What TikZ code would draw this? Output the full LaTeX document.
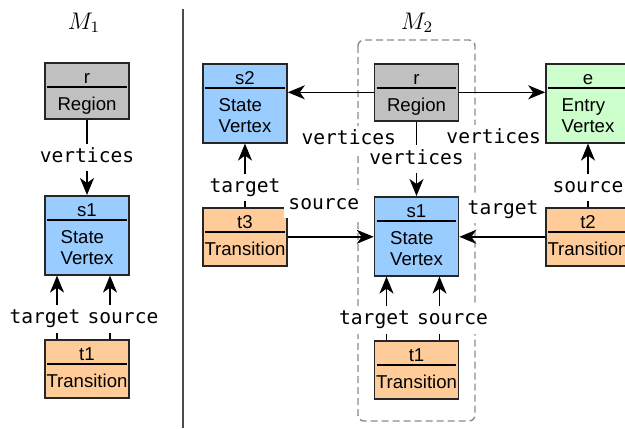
\documentclass[tikz,border=0pt]{standalone}
\usepackage{fontspec}
\setsansfont{Liberation Sans}
\setmonofont{DejaVu Sans Mono}
\usetikzlibrary{arrows.meta,calc}

\definecolor{regiongray}{HTML}{C0C0C0}
\definecolor{stateblue}{HTML}{99CCFF}
\definecolor{entrygreen}{HTML}{CCFFCC}
\definecolor{transorange}{HTML}{FFCC99}

\begin{document}
\begin{tikzpicture}[x=0.5pt,y=-0.5pt,
    obj/.style={draw=black!85, line width=0.8pt, minimum width=42pt, anchor=north, inner sep=0pt},
    objtitle/.style={font=\fontsize{9.3}{10.5}\selectfont\sffamily, anchor=base, inner sep=0pt},
    objbody/.style={font=\fontsize{9.3}{10.5}\selectfont\sffamily, align=left, anchor=north, inner sep=0pt},
    lbl/.style={font=\fontsize{9.8}{11}\selectfont\ttfamily, fill=white, inner sep=2pt, text height=7.5pt, text depth=2.3pt},
    conn/.style={line width=0.8pt, >={Stealth[length=8.5pt,width=7pt,inset=2.5pt]}}]
    \useasboundingbox (0,0) rectangle (625,428);

    % Разделитель и заголовки
    \draw[line width=0.65pt, black!70] (183,9) -- (183,428);
    \node[font=\large] (m1) at (84,23) {$M_1$};
    \node[font=\large] (m2) at (417,23) {$M_2$};
    \draw[black!45, line width=0.7pt, dash pattern=on 3.5pt off 2pt, rounded corners=3pt]
        (358,40) rectangle (475,421);

    % Объекты
    \foreach \n/\x/\y/\h/\c/\t/\b in {
        lr/87/62/28/regiongray/r/Region,
        ls1/87/195/39.5/stateblue/s1/{State\\Vertex},
        lt1/87/339/29/transorange/t1/Transition,
        rr/416.5/63/28.5/regiongray/r/Region,
        rs1/416.5/196/39.5/stateblue/s1/{State\\Vertex},
        rt1/416.5/340/29/transorange/t1/Transition,
        rs2/245/63/39.5/stateblue/s2/{State\\Vertex},
        rt3/245/207/29/transorange/t3/Transition,
        re/588/63/39.5/entrygreen/e/{Entry\\Vertex},
        rt2/588/207/29/transorange/t2/Transition}{
        \node[obj, fill=\c, minimum height=\h pt] (\n) at (\x,\y) {};
        \node[objtitle] at ($(\n.north)+(0,21)$) {\t};
        \draw[line width=0.8pt] ($(\n.north west)+(3,25)$) -- ($(\n.north east)+(-3,25)$);
        \node[objbody] at ($(\n.north)+(0,35)$) {\b};
    }

    % Связи M_1
    \draw[conn,->] (lr) -- node[lbl]{vertices} (ls1);
    \draw[conn,->] ($(lt1.north)+(-30,0)$) -- node[lbl, pos=.32, xshift=-6pt]{target} ($(ls1.south)+(-30,0)$);
    \draw[conn,->] ($(lt1.north)+(23,0)$) -- node[lbl, pos=.32, xshift=6.5pt]{source} ($(ls1.south)+(23,0)$);

    % Связи M_2
    \draw[conn,->] (rr) -- node[lbl]{vertices} (rs1);
    \draw[conn,->] (rr) -- node[lbl, pos=.29, yshift=-23.5pt]{vertices} (rr -| rs2.east);
    \draw[conn,->] (rr) -- node[lbl, pos=.40, yshift=-23pt]{vertices} (rr -| re.west);
    \draw[conn,->] (rt3) -- node[lbl, pos=.42, yshift=16.5pt]{source} (rt3 -| rs1.west);
    \draw[conn,->] (rt2) -- node[lbl, pos=.49, yshift=14pt]{target} (rt2 -| rs1.east);
    \draw[conn,->] (rt3) -- node[lbl, pos=.31]{target} (rs2);
    \draw[conn,->] (rt2) -- node[lbl, pos=.31]{source} (re);
    \draw[conn,->] ($(rt1.north)+(-30,0)$) -- node[lbl, pos=.32, xshift=-6pt]{target} ($(rs1.south)+(-30,0)$);
    \draw[conn,->] ($(rt1.north)+(23,0)$) -- node[lbl, pos=.32, xshift=6.5pt]{source} ($(rs1.south)+(23,0)$);
\end{tikzpicture}
\end{document}
